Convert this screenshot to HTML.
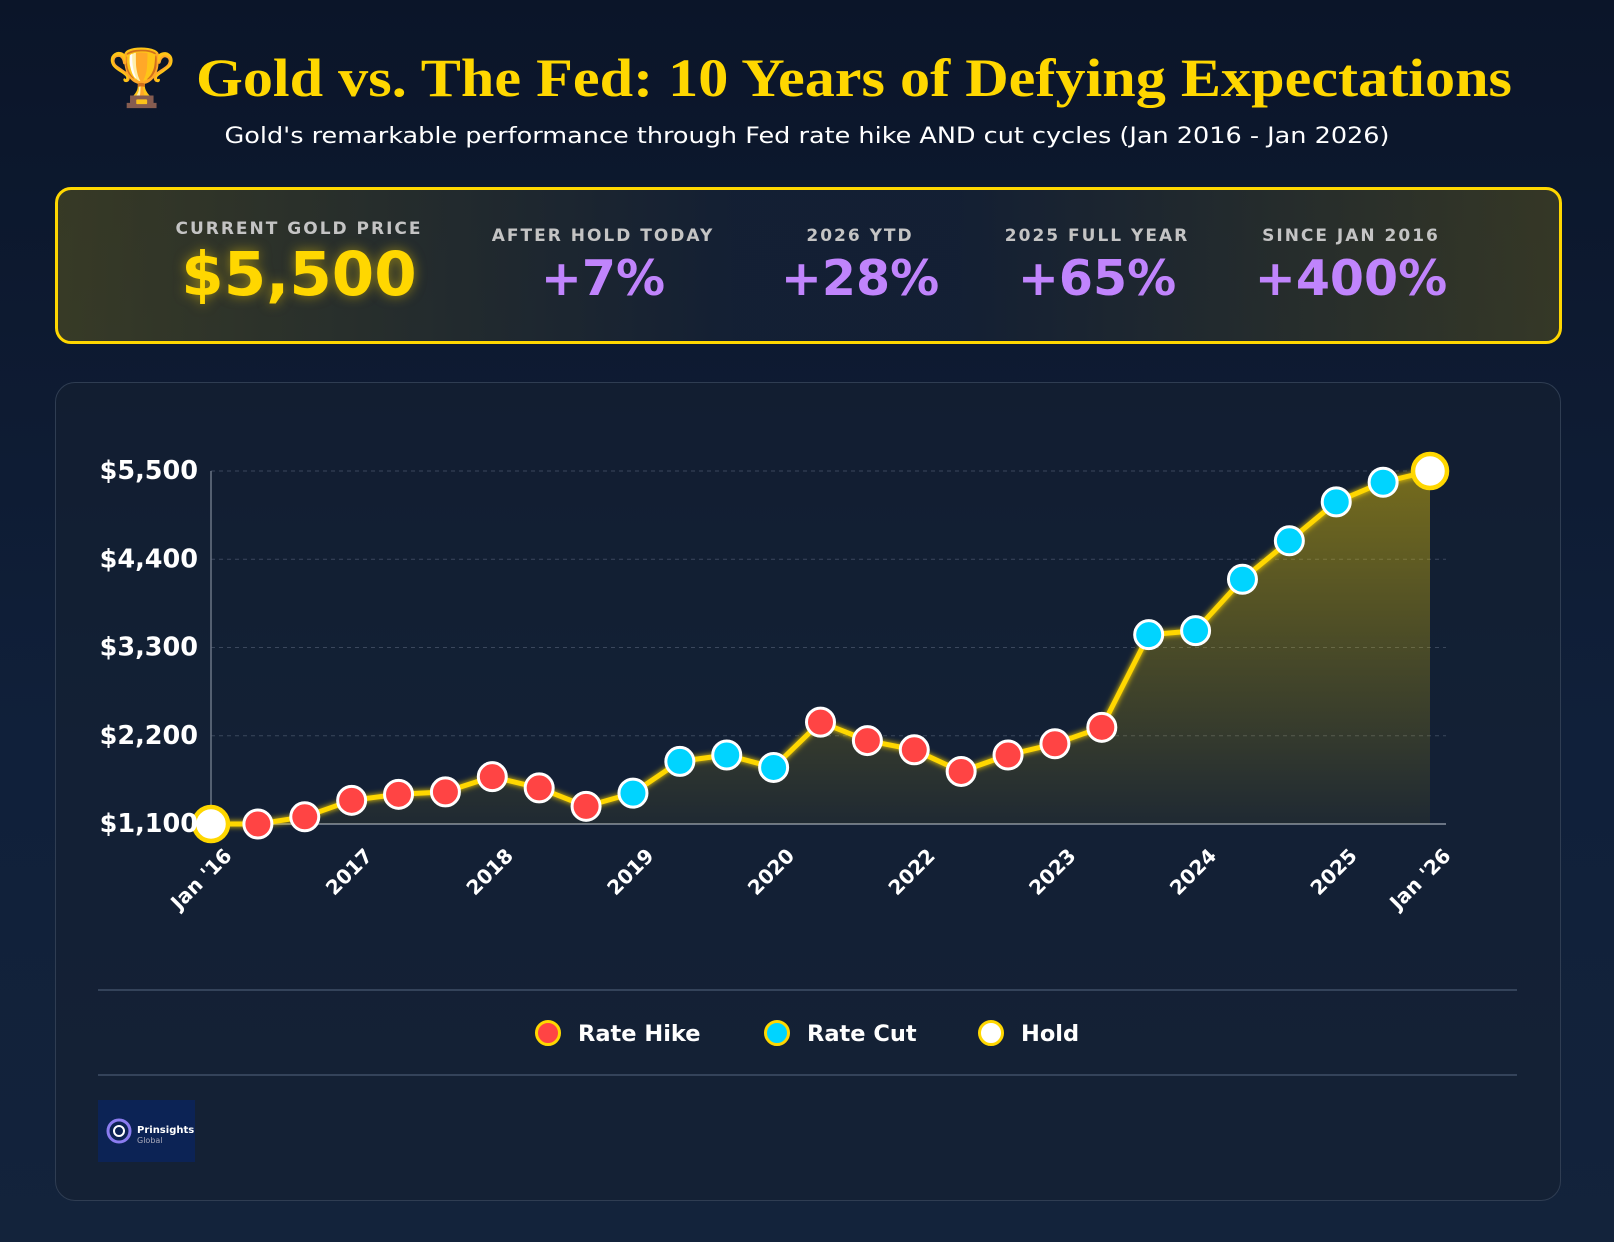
<!DOCTYPE html>
<html><head><meta charset="utf-8">
<style>
html,body{margin:0;padding:0;}
body{width:1614px;height:1242px;overflow:hidden;background:linear-gradient(180deg,#0b1529 0%,#10203a 60%,#13233b 100%);font-family:"DejaVu Sans","Liberation Sans",sans-serif;position:relative;}
#stats{position:absolute;left:55px;top:187px;width:1507px;height:157px;border:3px solid #FFD700;border-radius:16px;background:linear-gradient(90deg,rgba(90,85,30,0.55) 0%,rgba(20,32,52,0.9) 45%,rgba(20,32,52,0.9) 60%,rgba(80,76,32,0.6) 100%);box-sizing:border-box;}
.stat{position:absolute;text-align:center;transform:translateX(-50%);white-space:nowrap;}
.lbl{font-weight:bold;font-size:17px;letter-spacing:2px;color:#c4c4c4;}
.val{font-weight:bold;font-size:49px;color:#c084fc;margin-top:4px;}
#card{position:absolute;left:55px;top:382px;width:1506px;height:819px;border:1.5px solid #2f3d52;border-radius:20px;background:rgba(22,32,50,0.55);box-sizing:border-box;}
</style></head><body>
<svg width="1614" height="170" style="position:absolute;left:0;top:0">
<text x="107" y="97" font-size="56" font-family="Noto Color Emoji,DejaVu Sans,sans-serif" fill="#f5a623">🏆</text>
<text x="196" y="96" font-family="Liberation Serif,serif" font-weight="bold" font-size="54" fill="#FFD700" textLength="1316" lengthAdjust="spacingAndGlyphs">Gold vs. The Fed: 10 Years of Defying Expectations</text>
<text x="807" y="143" text-anchor="middle" font-family="DejaVu Sans,sans-serif" font-size="22" fill="#ffffff" textLength="1165" lengthAdjust="spacingAndGlyphs">Gold's remarkable performance through Fed rate hike AND cut cycles (Jan 2016 - Jan 2026)</text>
</svg>
<div id="stats">
 <div class="stat" style="left:241px;top:29px"><div class="lbl">CURRENT GOLD PRICE</div><div class="val" style="color:#FFD700;font-size:61px;margin-top:0px;text-shadow:0 0 12px rgba(255,215,0,0.5)">$5,500</div></div>
 <div class="stat" style="left:545px;top:36px"><div class="lbl">AFTER HOLD TODAY</div><div class="val">+7%</div></div>
 <div class="stat" style="left:802px;top:36px"><div class="lbl">2026 YTD</div><div class="val">+28%</div></div>
 <div class="stat" style="left:1039px;top:36px"><div class="lbl">2025 FULL YEAR</div><div class="val">+65%</div></div>
 <div class="stat" style="left:1293px;top:36px"><div class="lbl">SINCE JAN 2016</div><div class="val">+400%</div></div>
</div>
<div id="card"></div>
<svg id="chart" width="1614" height="1242" style="position:absolute;left:0;top:0">
<defs>
<linearGradient id="area" x1="0" y1="0" x2="0" y2="1"><stop offset="0" stop-color="#FFD700" stop-opacity="0.42"/><stop offset="1" stop-color="#FFD700" stop-opacity="0.05"/></linearGradient>
<filter id="glow" x="-10%" y="-10%" width="120%" height="120%"><feGaussianBlur stdDeviation="3" result="b"/><feMerge><feMergeNode in="b"/><feMergeNode in="SourceGraphic"/></feMerge></filter>
</defs>
<g id="grid"></g><g id="areaG"></g><g id="lineG"></g><g id="pts"></g><g id="xlab"></g><g id="ylab"></g>
<line x1="98" x2="1517" y1="990" y2="990" stroke="#34435a" stroke-width="2"/>
<line x1="98" x2="1517" y1="1075" y2="1075" stroke="#34435a" stroke-width="2"/>
<g font-family="DejaVu Sans,sans-serif" font-weight="bold" font-size="22.5" fill="#fff">
 <g><circle cx="548" cy="1033" r="11.5" fill="#ff4444" stroke="#FFD700" stroke-width="3"/><text x="578" y="1041">Rate Hike</text></g>
 <g><circle cx="777" cy="1033" r="11.5" fill="#00d4ff" stroke="#FFD700" stroke-width="3"/><text x="807" y="1041">Rate Cut</text></g>
 <g><circle cx="991" cy="1033" r="11.5" fill="#ffffff" stroke="#FFD700" stroke-width="3"/><text x="1021" y="1041">Hold</text></g>
</g>
<g>
 <rect x="98" y="1100" width="97" height="62" fill="#0c2355"/>
 <circle cx="119" cy="1131" r="11" fill="none" stroke="#8b7cf0" stroke-width="3"/>
 <circle cx="119" cy="1131" r="5" fill="none" stroke="#ffffff" stroke-width="2"/>
 <text x="137" y="1133" font-family="DejaVu Sans,sans-serif" font-size="10" font-weight="bold" fill="#fff">Prinsights</text>
 <text x="137" y="1143" font-family="DejaVu Sans,sans-serif" font-size="8" fill="#aab">Global</text>
</g>
</svg>
<script>
const values=[1100,1100,1190,1395,1470,1500,1690,1550,1320,1485,1880,1960,1805,2370,2140,2025,1755,1960,2100,2305,3460,3510,4150,4630,5115,5360,5500];
const types=["hold","hike","hike","hike","hike","hike","hike","hike","hike","cut","cut","cut","cut","hike","hike","hike","hike","hike","hike","hike","cut","cut","cut","cut","cut","cut","hold"];
const xLabels=["Jan '16","","","2017","","","2018","","","2019","","","2020","","","2022","","","2023","","","2024","","","2025","","Jan '26"];
const yTicks=[1100,2200,3300,4400,5500];
const yTickLabels=["$1,100","$2,200","$3,300","$4,400","$5,500"];
const NS="http://www.w3.org/2000/svg";
const X0=211,X1=1430,Y0=824,Y1=471,VMIN=1100,VMAX=5500;
function xs(i){return X0+(X1-X0)*i/(values.length-1);}
function ys(v){return Y0-(v-VMIN)/(VMAX-VMIN)*(Y0-Y1);}
function mk(tag,attrs,parent){const e=document.createElementNS(NS,tag);for(const k in attrs)e.setAttribute(k,attrs[k]);parent.appendChild(e);return e;}
const grid=document.getElementById('grid'),yl=document.getElementById('ylab');
yTicks.forEach((t,i)=>{
 if(i>0){const g=mk('line',{x1:X0,x2:1446,y1:ys(t),y2:ys(t),stroke:'#3a475c','stroke-dasharray':'4 4','stroke-width':1},grid);
 
 }
 const tx=mk('text',{x:198,y:ys(t)+8,'text-anchor':'end','font-family':'DejaVu Sans,sans-serif','font-weight':'bold','font-size':25.5,fill:'#fff'},yl);
 tx.textContent=yTickLabels[i];
 
 
});
const ax=mk('line',{x1:X0,x2:X0,y1:Y1,y2:Y0,stroke:'#6b7585','stroke-width':1.5},grid);


const bx=mk('line',{x1:X0,x2:1446,y1:Y0,y2:Y0,stroke:'#6b7585','stroke-width':2},grid);


let d='';values.forEach((v,i)=>{d+=(i?'L':'M')+xs(i).toFixed(1)+' '+ys(v).toFixed(1);});
const area=mk('path',{d:d+'L'+xs(values.length-1)+' '+Y0+'L'+X0+' '+Y0+'Z',fill:'url(#area)'},document.getElementById('areaG'));


const line=mk('path',{d:d,fill:'none',stroke:'#FFD700','stroke-width':5,'stroke-linejoin':'round',filter:'url(#glow)'},document.getElementById('lineG'));


const pts=document.getElementById('pts');
const col={hike:'#ff4444',cut:'#00d4ff',hold:'#ffffff'};
values.forEach((v,i)=>{
 const h=types[i]==='hold';
 const c=mk('circle',{cx:xs(i),cy:ys(v),r:h?17:14,fill:col[types[i]],stroke:h?'#FFD700':'#ffffff','stroke-width':h?4.5:3},pts);
 
 
});
const xl=document.getElementById('xlab');
xLabels.forEach((l,i)=>{
 if(!l)return;
 const x=xs(i)+22,y=Y0+33;
 const t=mk('text',{x:x,y:y,'text-anchor':'end','font-family':'DejaVu Sans,sans-serif','font-weight':'bold','font-size':20,fill:'#fff',transform:'rotate(-45 '+x+' '+y+')'},xl);
 t.textContent=l;
 
 
});
</script>
</body></html>
